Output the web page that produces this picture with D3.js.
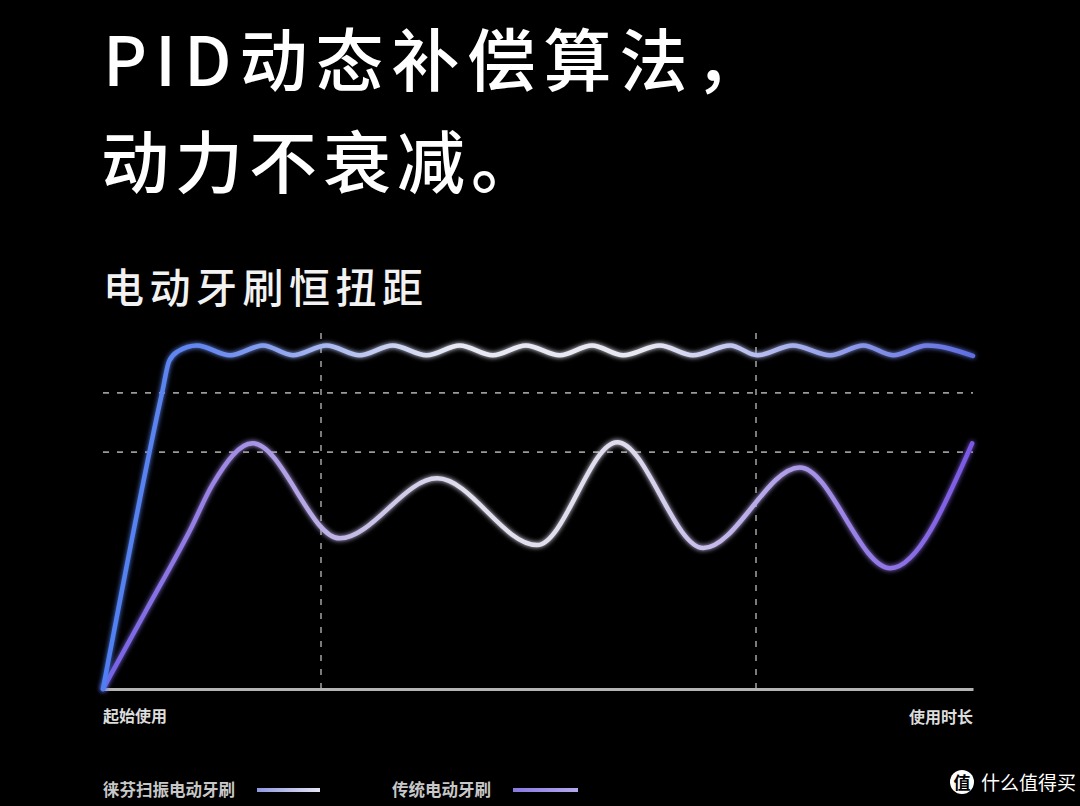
<!DOCTYPE html>
<html><head><meta charset="utf-8">
<script src="https://cdn.jsdelivr.net/npm/d3@7/dist/d3.min.js"></script>
<style>
html,body{margin:0;padding:0;background:#000;}
svg{display:block;}
text{font-family:"Noto Sans CJK SC","Noto Sans",sans-serif;}
</style></head>
<body>
<script>
// ---- data ----
const titleLines = ["PID动态补偿算法，", "动力不衰减。"];
const subtitle = "电动牙刷恒扭距";
const xTickLabels = ["起始使用", "使用时长"];
const seriesNames = ["徕芬扫振电动牙刷", "传统电动牙刷"];
const gridY = [80, 100];
const gridX = [25, 75];
// Laifen: x = usage time (0-100), y = torque
const laifenX = [0, 6.8, 7.6, 8.6, 10.8, 14.6, 18.4, 21.8, 25.7, 29.5, 33.3, 37.2, 41.0, 44.8, 48.6, 52.5, 56.2, 59.8, 64.0, 67.8, 72.1, 75.2, 79.3, 83.6, 87.4, 90.8, 94.7, 100];
const laifenY = [0, 100, 110.5, 113.8, 115.8, 112.5, 115.8, 112.5, 115.8, 112.5, 115.8, 112.5, 115.8, 112.5, 115.8, 112.5, 115.8, 112.5, 115.8, 112.5, 115.8, 112.5, 115.8, 112.5, 115.8, 112.5, 115.8, 112.3];
// Traditional
const tradX = [0, 5.0, 10.0, 12.6, 17.2, 27.2, 38.4, 49.9, 59.1, 69.0, 80.1, 90.5, 99.9];
const tradY = [0, 26.7, 53.5, 69.0, 82.8, 50.8, 71.0, 48.5, 83.2, 47.5, 74.7, 40.7, 82.8];

const W = 1080, H = 806;
const svg = d3.select("body").append("svg").attr("width", W).attr("height", H)
  .style("background", "#000");
svg.append("rect").attr("width", W).attr("height", H).attr("fill", "#000");

const defs = svg.append("defs");
const pLeft = 103, pRight = 973, pTop = 333, pBottom = 689;
const x = d3.scaleLinear().domain([0, 100]).range([pLeft, pRight]);
const y = d3.scaleLinear().domain([0, 120]).range([pBottom, pTop]);

function grad(id, stops) {
  const g = defs.append("linearGradient").attr("id", id)
    .attr("gradientUnits", "userSpaceOnUse")
    .attr("x1", pLeft).attr("x2", pRight).attr("y1", 0).attr("y2", 0);
  stops.forEach(s => g.append("stop").attr("offset", s[0]).attr("stop-color", s[1]));
}
grad("gBlue", [[0, "#4f7ff2"], [0.12, "#6688f0"], [0.28, "#b4c0f0"], [0.4, "#e6e8f4"], [0.62, "#e8e8f2"], [0.75, "#b8bef0"], [0.88, "#8592e8"], [1, "#5f6ee0"]]);
grad("gPurple", [[0, "#7460e6"], [0.12, "#9a82e4"], [0.3, "#c8bfe8"], [0.42, "#e2e0ee"], [0.6, "#e0dcee"], [0.74, "#bcaeea"], [0.86, "#9a82e6"], [1, "#7a58e4"]]);

const glow = defs.append("filter").attr("id", "glow").attr("x", "-10%").attr("y", "-10%").attr("width", "120%").attr("height", "120%");
glow.append("feGaussianBlur").attr("stdDeviation", 2.5).attr("result", "b");
const fm = glow.append("feMerge");
fm.append("feMergeNode").attr("in", "b");
fm.append("feMergeNode").attr("in", "SourceGraphic");

// ---- titles ----
svg.append("text").attr("x", 103).attr("y", 86).attr("fill", "#fff")
  .attr("font-size", 68).attr("font-weight", 500).attr("letter-spacing", 8).text(titleLines[0]);
svg.append("text").attr("x", 101).attr("y", 188).attr("fill", "#fff")
  .attr("font-size", 68).attr("font-weight", 500).attr("letter-spacing", 6).text(titleLines[1]);
svg.append("text").attr("x", 103).attr("y", 303).attr("fill", "#f2f2f2")
  .attr("font-size", 41).attr("font-weight", 500).attr("letter-spacing", 5.5).text(subtitle);

// ---- grid via axes ----
const gy = svg.append("g").attr("transform", `translate(${pLeft},0)`)
  .call(d3.axisLeft(y).tickValues(gridY).tickSize(-(pRight - pLeft)).tickFormat(""));
gy.select(".domain").remove();
gy.selectAll(".tick line").attr("stroke", "#9a9a9a").attr("stroke-width", 1.6)
  .attr("stroke-dasharray", "6,8");

const gx = svg.append("g").attr("transform", `translate(0,${pBottom})`)
  .call(d3.axisBottom(x).tickValues(gridX).tickSize(-(pBottom - pTop)).tickFormat(""));
gx.select(".domain").remove();
gx.selectAll(".tick line").attr("stroke", "#9a9a9a").attr("stroke-width", 1.6)
  .attr("stroke-dasharray", "6,8");

// baseline axis
const ax = svg.append("g").attr("transform", `translate(0,${pBottom})`)
  .call(d3.axisBottom(x).tickValues([]).tickSizeOuter(0));
ax.select(".domain").attr("stroke", "#b4b4b4").attr("stroke-width", 3);

// ---- lines ----
const line = d3.line().x(d => x(d[0])).y(d => y(d[1])).curve(d3.curveMonotoneX);
const tradData = tradX.map((v, i) => [v, tradY[i]]);
const laifenData = laifenX.map((v, i) => [v, laifenY[i]]);

svg.append("path").datum(tradData).attr("d", line).attr("fill", "none")
  .attr("stroke", "url(#gPurple)").attr("stroke-width", 4.5)
  .attr("stroke-linecap", "round").attr("filter", "url(#glow)");
svg.append("path").datum(laifenData).attr("d", line).attr("fill", "none")
  .attr("stroke", "url(#gBlue)").attr("stroke-width", 4.5)
  .attr("stroke-linecap", "round").attr("stroke-linejoin", "round").attr("filter", "url(#glow)");

// ---- axis end labels ----
svg.append("text").attr("x", x(0)).attr("y", 722).attr("fill", "#dcdcdc")
  .attr("font-size", 16).attr("font-weight", 700).text(xTickLabels[0]);
svg.append("text").attr("x", x(100)).attr("y", 723).attr("fill", "#dcdcdc")
  .attr("text-anchor", "end").attr("font-size", 16).attr("font-weight", 700).text(xTickLabels[1]);

// ---- legend ----
const leg = [
  {name: seriesNames[0], tx: 103, lx1: 257, lx2: 320, c1: "#9098e0", c2: "#e4e4f2"},
  {name: seriesNames[1], tx: 392, lx1: 513, lx2: 578, c1: "#8a78e0", c2: "#b4a8ec"}
];
leg.forEach((l, i) => {
  const g = defs.append("linearGradient").attr("id", "leg" + i).attr("gradientUnits", "userSpaceOnUse")
    .attr("x1", l.lx1).attr("x2", l.lx2).attr("y1", 0).attr("y2", 0);
  g.append("stop").attr("offset", 0).attr("stop-color", l.c1);
  g.append("stop").attr("offset", 1).attr("stop-color", l.c2);
  svg.append("text").attr("x", l.tx).attr("y", 796).attr("fill", "#c8c8c8")
    .attr("font-size", 16.5).attr("font-weight", 700).text(l.name);
  svg.append("line").attr("x1", l.lx1).attr("x2", l.lx2).attr("y1", 790).attr("y2", 790)
    .attr("stroke", `url(#leg${i})`).attr("stroke-width", 4);
});

// ---- watermark ----
svg.append("circle").attr("cx", 962).attr("cy", 782).attr("r", 12).attr("fill", "#fff");
svg.append("text").attr("x", 962).attr("y", 789).attr("text-anchor", "middle").attr("fill", "#000")
  .attr("font-size", 17).attr("font-weight", 700).text("值");
svg.append("text").attr("x", 981).attr("y", 790).attr("fill", "#fff")
  .attr("font-size", 19).text("什么值得买");
</script>
</body></html>
